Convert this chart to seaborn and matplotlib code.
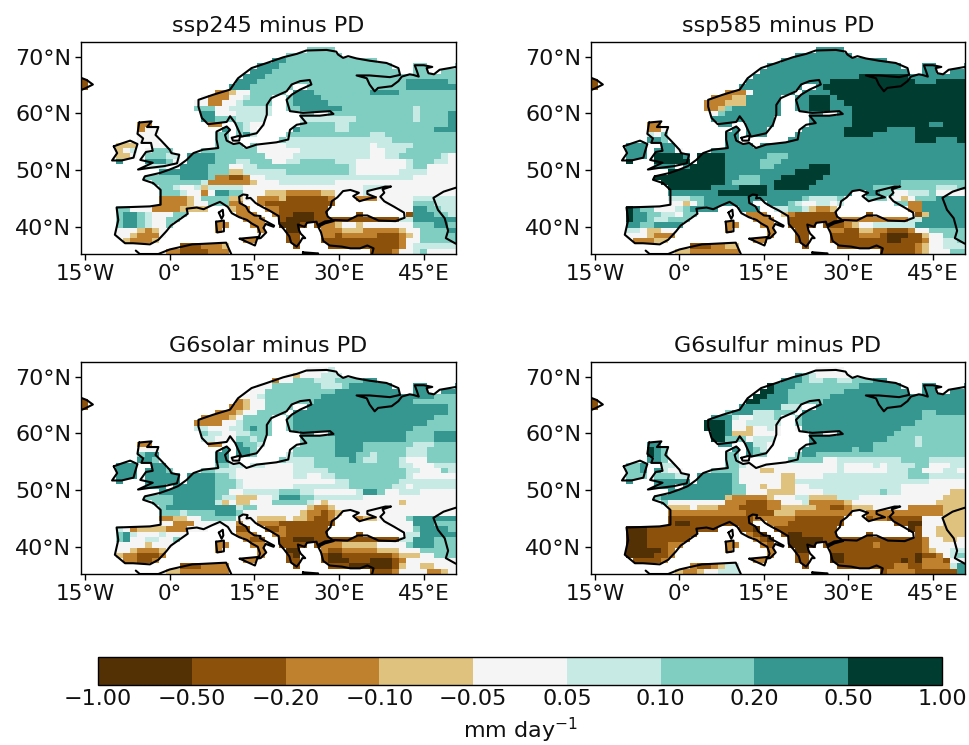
import numpy as np
import pandas as pd
import matplotlib
matplotlib.use("Agg")
import matplotlib.pyplot as plt
from matplotlib.colors import ListedColormap, BoundaryNorm
from matplotlib.cm import ScalarMappable
from matplotlib.path import Path
import seaborn as sns

LEVELS = [-1.0, -0.5, -0.2, -0.1, -0.05, 0.05, 0.1, 0.2, 0.5, 1.0]
COLORS = ["#543005", "#8c510a", "#bf812d", "#dfc27d", "#f5f5f5", "#c7eae5", "#80cdc1", "#35978f", "#003c30"]
TITLES = ["ssp245 minus PD", "ssp585 minus PD", "G6solar minus PD", "G6sulfur minus PD"]
LON_TICKS = [-15, 0, 15, 30, 45]
LAT_TICKS = [40, 50, 60, 70]
LON_LABELS = ["15°W", "0°", "15°E", "30°E", "45°E"]
LAT_LABELS = ["40°N", "50°N", "60°N", "70°N"]

# class of each cell: "start_column:class", runs until the next token (north to south)
SSP245 = ["", "31:6", "0:6", "26:7 29:6", "24:7 28:6", "23:7 27:6", "0:2 22:7 26:6", "0:1 21:7 25:6 46:7 52:6",
          "0:1 21:7 24:6 46:7", "0:2 19:2 21:3 22:4 24:6 30:7 33:6 41:7 45:6",
          "17:4 18:2 21:4 23:5 24:6 30:7 34:6", "17:4 18:2 20:4 22:5 23:6 30:7 35:6",
          "17:6 19:4 21:5 29:6 31:7 37:6 47:5 48:6", "17:7 19:4 22:5 29:7 30:6 47:5 48:6 52:7",
          "17:7 19:6 22:5 37:5 39:6 47:5 48:6 52:7", "8:2 22:6 23:5 24:4 26:5 31:6 36:5 38:6 52:7",
          "8:2 9:4 19:7 21:6 23:5 24:4 26:5 30:7 31:6 36:5 38:6 50:7", "8:4 19:6 23:7 24:5 29:6 41:5 43:6",
          "7:3 8:4 19:6 29:5 41:5 44:6", "5:3 8:4 18:6 25:4 29:5 41:4 42:5 47:6",
          "5:3 6:4 7:5 8:4 10:6 16:6 25:4 31:5 41:4 43:5 46:6", "5:3 7:4 9:6 12:5 15:7 19:6 26:4 30:5 41:4 43:5 45:6 51:5 52:4",
          "9:7 12:6 13:4 15:7 19:6 22:5 24:6 27:4 29:5 31:6 36:5 39:4 46:5 47:6 50:5 52:4",
          "8:4 9:5 13:4 14:7 18:6 21:4 23:5 25:6 38:5 39:4 46:5 47:6 49:4",
          "13:7 18:6 21:3 23:5 29:6 37:6 38:5 39:4 45:5 49:4",
          "9:6 14:7 18:6 19:2 21:1 23:2 24:4 26:5 38:5 47:4", "10:6 17:5 18:2 22:2 24:3 25:4 28:5 36:4 44:4",
          "11:6 13:5 14:4 16:5 17:3 18:5 22:5 23:4 38:4 40:5 43:4",
          "11:6 14:5 15:4 17:2 18:4 19:7 21:6 23:4 26:3 29:2 34:3 36:4 40:5 41:4",
          "12:2 15:3 16:4 17:6 21:3 23:4 25:2 28:3 29:1 35:2 42:4 47:5", "11:2 15:3 16:4 18:6 21:2 26:1 42:4 47:6 50:5",
          "5:6 7:4 10:2 14:3 22:2 27:2 28:1 45:4 47:7 49:6 51:5", "5:6 6:7 8:6 9:5 10:4 13:6 19:2 23:2 28:1 30:0 33:1 47:7 50:6 52:5",
          "5:6 6:7 8:6 9:5 10:4 12:6 19:2 24:2 28:1 29:0 33:1 45:5 47:7", "5:6 6:7 8:6 9:5 10:4 12:6 19:2 25:2 27:3 28:0 31:1 34:2 36:3 37:4 39:3 40:4 47:6 50:7 52:6",
          "5:4 8:3 9:2 10:3 11:4 19:2 26:2 28:0 31:1 34:2 37:3 40:2 45:3 46:4 48:6 52:7",
          "5:4 7:3 8:2 10:2 11:4 28:1 31:2 34:2 36:1 37:2 42:1 45:2 46:3 47:4 48:6 53:7",
          "6:3 7:2 10:3 23:2 29:1 32:2 34:1 45:2 46:4 48:6 53:7", "7:1 12:2 14:1 17:2 20:3 30:1 37:1 45:2 46:4 47:5",
          "7:1 10:2 14:1 18:2 38:1 42:1 44:2 45:4 47:5 48:6 49:4"]

SSP585 = ["", "31:7", "0:7", "0:7", "0:7", "0:7", "0:2 22:7 38:8 45:7", "0:1 21:7 34:8 46:7 49:8", "0:1 21:7 33:8",
          "0:2 19:2 22:4 23:7 34:8", "17:2 20:3 22:7 31:8 34:7 35:8", "17:2 19:3 22:7 31:8 34:7 36:8",
          "17:2 18:3 19:6 20:7 31:8 34:7 37:8", "17:4 18:6 19:7 37:8", "17:7 37:8", "8:2 18:7 37:8 48:7 50:8",
          "8:2 10:4 19:7 36:8 42:7 46:8", "8:5 9:4 10:6 19:7 36:8 40:7 46:8", "7:7 10:6 19:7 46:8 49:7 52:8",
          "5:7 8:8 9:7", "5:7 8:8 9:7 12:4 16:7", "5:7 9:8 13:7 15:8 19:7 25:6 28:7", "9:8 15:8 19:7 24:6 27:7",
          "8:7 14:8 19:7 24:6 26:7 31:8 34:7", "13:8 19:7 29:8 34:7", "9:8 19:7 21:6 24:7 27:8 33:7",
          "9:8 19:7 20:6 24:7 26:8 32:7 44:6", "11:8 17:7 21:8 25:7 26:8 31:7 40:6 49:5 52:6",
          "11:7 18:8 25:7 41:6 43:4 45:5 48:6 49:4", "12:5 14:6 16:7 30:6 31:5 35:6 42:4 44:3 45:4 46:6 49:7",
          "12:4 13:3 14:4 15:6 16:7 23:7 27:7 28:6 29:5 30:4 32:5 34:4 35:5 42:6 45:2 47:7",
          "5:8 6:7 7:6 9:4 12:5 13:6 14:7 22:7 24:5 28:6 30:5 31:3 32:2 34:3 45:2 47:7",
          "5:8 6:7 8:6 10:5 12:4 13:6 19:2 23:2 25:3 28:2 29:1 47:3 48:7", "5:8 6:7 8:6 9:5 11:6 19:2 24:2 28:1 35:2 45:5 47:7",
          "5:7 7:6 9:7 19:2 25:2 28:1 34:1 36:2 37:3 38:4 40:5 44:5 46:7", "5:5 7:4 8:3 10:4 19:2 26:2 28:1 34:2 36:1 38:3 40:2 42:1 45:2 46:4 48:6",
          "5:4 8:3 9:2 11:2 28:1 34:1 38:2 41:1 42:0 45:1 47:3 48:4 50:6", "6:2 9:3 23:2 29:1 34:1 42:0 44:1 47:2 48:4 50:5 52:6",
          "7:1 12:2 14:1 17:2 19:3 30:1 38:1 46:2 47:3 48:4 50:5", "7:1 10:3 14:2 38:1 42:1 46:2 47:3 48:4 51:6"]

G6SOLAR = ["", "30:3 32:4 35:5", "29:4 30:3 31:4 34:5", "26:2 28:4 30:6 33:5 36:6 40:7", "24:4 27:6 34:5 37:6 38:7",
           "23:4 26:6 36:7", "0:2 22:3 23:4 25:5 26:6 34:7 50:6", "0:1 21:3 22:2 23:3 24:4 26:6 33:7 47:6", "0:1 21:2 23:3 24:4 26:6 30:7 52:6",
           "0:2 19:2 22:3 23:4 25:6 30:7 52:6", "17:2 21:3 22:4 23:6 30:7 50:6", "17:2 20:4 22:5 23:6 30:7 49:6",
           "17:5 18:4 21:5 23:6 24:7 25:6 30:7 47:6", "17:6 18:5 20:4 22:5 24:6 30:7 46:6 50:7", "17:5 19:4 22:6 24:5 25:6 36:7 46:6 50:7",
           "8:2 22:7 23:6 25:5 26:4 31:6 36:7 40:6 47:5 50:6", "8:4 19:7 24:6 26:5 30:6 36:7 40:6 46:5 49:6", "8:6 9:7 19:7 24:6 29:5 30:6 36:7 39:6 41:5 42:6 46:5 49:6",
           "7:7 10:6 19:7 22:6 29:5 33:6 38:7 39:6 40:5 42:6 45:5 46:4 49:6", "5:7 18:6 21:5 26:4 30:5 33:6 45:5 47:4 50:5",
           "5:7 12:6 16:6 19:5 22:4 30:5 35:6 46:5 48:4 51:6 52:5", "5:7 15:7 19:6 21:5 22:4 30:5 32:4 34:5 36:6 46:5 47:4",
           "9:7 15:7 19:6 22:5 23:4 33:4 36:5 38:6 45:5", "8:7 14:7 19:6 22:5 23:4 30:5 38:6 44:5 46:4 47:5",
           "13:7 19:6 21:4 23:5 28:6 31:5 33:4 39:5 40:7 42:6 43:4 45:5 48:4", "9:6 13:7 19:6 20:5 22:3 25:4 27:5 28:7 31:6 33:5 40:4",
           "9:6 13:7 19:5 20:3 21:4 22:3 24:4 27:6 32:5 33:4 34:3 35:4 45:3 46:4", "11:6 12:7 18:7 22:5 23:6 25:4 32:3 33:2 35:3 36:4",
           "11:6 14:5 15:6 19:7 22:6 23:4 31:3 32:2 34:1 35:2 36:3 37:4", "12:2 13:3 15:4 17:6 22:4 25:3 29:4 30:3 32:2 33:1 35:2 40:3 42:4 46:6 47:7",
           "12:4 13:2 16:4 22:2 28:1 42:4 47:7 50:6", "5:5 6:4 7:2 8:3 12:2 15:4 22:1 28:2 29:1 45:4 47:6 48:7 52:6",
           "5:6 6:7 7:5 8:4 11:5 12:4 19:2 23:2 28:2 29:1 46:5 48:7", "5:6 6:7 7:4 9:5 11:4 13:6 19:2 24:1 26:2 28:1 30:0 33:1 45:5 47:7 50:6",
           "5:4 9:3 10:4 19:2 25:2 27:3 28:1 34:2 37:3 42:4 46:6 47:7 50:6", "5:4 7:3 8:2 11:3 19:2 26:2 28:0 31:1 34:2 35:1 37:2 42:3 45:4 48:6",
           "5:3 6:2 8:1 11:2 28:1 30:0 34:1 35:0 37:1 44:2 45:3 48:4 50:6", "6:2 8:1 10:2 23:2 29:1 34:1 35:0 38:1 41:0 44:1 45:2 46:4",
           "7:1 12:2 14:1 17:2 30:1 38:0 44:1 45:3 46:4 48:3 50:4", "7:1 10:3 14:2 38:1 42:1 44:2 45:4 49:2 51:3 52:4"]

G6SULFUR = ["", "32:4", "29:7 30:6 31:5 32:4", "26:7 30:6 31:5 33:6 35:5 37:6 40:7", "24:7 25:8 26:7 29:6 38:7", "23:7 24:8 26:7 28:6 36:7",
            "0:2 22:7 23:8 25:7 28:6 34:7", "0:1 21:8 24:7 28:6 33:7", "0:1 19:6 21:7 27:5 30:7", "0:1 19:6 20:7 23:5 26:6 30:7 47:6 49:7",
            "17:7 20:5 21:4 23:5 26:6 30:7 47:6", "17:8 19:7 20:4 22:5 27:6 30:7 45:7 46:6", "17:8 19:7 20:4 22:3 23:4 25:5 26:4 30:7 44:6",
            "17:8 19:7 20:3 23:4 29:7 43:6", "17:8 19:6 22:4 23:5 26:7 42:6 46:5 47:6", "8:7 22:7 23:5 25:4 31:7 40:6 46:5 47:6",
            "8:8 9:7 10:6 19:7 23:6 24:5 30:7 37:6 38:7 40:6", "8:8 9:7 10:6 19:6 21:7 23:6 30:7 32:6", "7:7 10:6 19:6 30:6 33:4 35:5 41:5 44:6 48:5",
            "5:6 7:7 8:6 10:5 18:6 21:5 22:4 35:5 36:4 40:5 41:4 42:5 46:6 48:4 51:5", "5:6 7:7 8:6 9:7 10:5 11:4 16:6 21:4 24:3 26:4 35:5 36:4 42:5 45:6 47:4 50:5 52:4",
            "5:6 12:5 15:7 20:6 21:4 27:3 29:4 33:5 45:6 48:5", "9:7 15:7 20:6 21:4 27:3 29:5 46:5 48:4", "8:7 14:7 20:6 22:4 24:3 25:4 27:3 29:4 31:5 44:4",
            "13:7 20:6 22:4 25:3 29:4 33:5 41:6 42:5 44:4 51:3", "9:6 10:7 19:3 20:2 25:3 26:4 29:5 31:3 33:3 35:5 38:4 50:3",
            "9:5 10:6 11:4 19:2 22:1 25:2 27:4 30:5 31:2 36:3 37:4 49:3", "12:3 14:4 15:3 18:2 21:1 25:2 27:3 32:2 34:1 36:2 37:3 40:4 45:2 50:3",
            "11:2 22:1 26:3 29:2 40:2 50:3", "12:1 23:2 27:2 29:1 40:2 42:1 47:4 50:3", "11:1 12:0 14:1 22:1 24:2 28:1 45:0 47:4 50:3",
            "5:0 8:1 22:1 23:0 24:1 28:1 45:0 46:1 47:4 49:3", "5:0 8:1 19:2 23:1 24:0 25:1 28:0 30:1 46:1 47:4 49:3",
            "5:0 8:1 19:2 24:1 25:0 26:1 28:0 31:0 33:1 45:1 47:2 48:4 50:3 52:4", "5:0 8:1 11:2 19:2 25:1 27:2 28:0 32:1 40:2 41:1 47:2 48:4",
            "5:0 10:1 11:2 19:2 26:2 28:0 31:1 47:2 48:3 49:4 51:5", "5:0 9:1 11:2 28:1 34:0 36:1 46:0 47:1 49:2 50:4 51:5 52:6",
            "6:1 10:2 23:2 29:1 34:0 36:1 44:0 45:1 46:0 47:2 50:1 51:4", "7:1 12:2 15:1 17:2 18:3 19:5 30:1 38:1 43:2 45:1 47:2 51:5 52:7",
            "7:1 9:2 10:3 13:2 15:3 16:4 18:5 38:1 42:2 46:1 52:7"]

# coastlines (lon, lat)
COAST_NORTH = [(50.7,68.2),(47.8,67.7),(46.8,66.9),(45.8,67.1),(45.5,68.0),(46.5,68.2),(45.0,68.5),(43.4,68.5),(43.8,67.4),(44.1,66.5),
    (43.1,66.8),(42.5,66.9),(41.1,66.5),(40.5,65.7),(39.3,64.8),(36.9,64.5),(36.3,63.9),(35.4,65.1),(34.9,66.2),(33.1,66.7),(35.4,66.7),
    (39.0,66.4),(40.8,66.8),(40.5,68.0),(38.4,68.9),(35.4,69.3),(33.1,69.7),(31.6,70.1),(30.7,69.8),(29.8,70.4),(29.5,70.9),(27.8,71.2),
    (24.2,71.1),(22.5,70.5),(20.1,69.9),(17.2,68.9),(14.5,68.0),(12.1,66.2),(10.7,64.2),(7.7,63.3),(5.1,62.4),(5.1,61.2),(5.7,59.2),
    (6.8,58.1),(10.1,58.5),(10.7,59.5),(11.6,58.3),(12.7,55.9),(15.4,56.5),(16.6,58.0),(17.2,59.8),(17.2,61.5),(18.0,62.7),(20.7,63.9),
    (21.6,65.1),(23.1,65.7),(24.8,65.9),(25.1,65.1),(23.1,64.2),(21.6,63.3),(20.7,62.4),(21.3,60.4),(23.6,60.1),(28.4,60.4),(29.0,59.9),
    (26.6,59.6),(23.1,59.6),(24.2,58.3),(22.5,58.0),(21.3,57.1),(21.0,55.4),(18.9,54.9),(15.4,54.5),(13.6,53.9),(12.4,54.8),(11.3,54.6),
    (10.1,55.2),(9.8,56.2),(10.7,57.1),(10.1,57.7),(8.3,56.8),(8.3,55.4),(8.6,53.9),(5.9,53.6),(4.2,53.0),(3.0,51.8),(1.5,50.7),(0.0,50.1),
    (-1.7,49.5),(-4.4,48.9),(-4.7,48.3),(-2.9,47.7),(-1.6,46.5),(-1.6,43.9),(-3.5,43.6),(-9.4,43.4),(-9.1,41.2),(-9.7,38.6),(-7.9,37.1),
    (-6.5,37.1),(-3.5,36.9),(-2.0,37.7),(-0.6,39.2),(0.2,40.2),(3.2,42.3),(3.0,43.2),(4.8,43.4),(6.0,43.1),(7.5,43.8),(8.9,44.4),(10.3,43.5),
    (11.0,42.4),(12.3,41.7),(13.7,41.2),(14.5,40.6),(15.6,40.0),(16.0,38.8),(15.7,37.95),(16.1,38.0),(17.1,39.0),(16.6,39.8),(17.0,40.5),
    (18.4,40.0),(18.5,40.2),(17.0,41.0),(16.0,41.5),(16.1,41.9),(15.0,42.0),(14.0,42.7),(13.5,43.6),(12.4,44.2),(12.3,45.3),(13.0,45.7),
    (13.8,45.6),(13.6,45.0),(14.3,45.1),(15.2,44.2),(16.4,43.5),(17.6,42.9),(19.3,41.9),(19.4,40.5),(20.2,39.6),(21.2,38.3),(21.5,37.2),
    (22.5,36.5),(23.1,37.3),(23.5,38.0),(24.0,38.0),(23.2,38.8),(22.9,39.4),(22.7,40.4),(23.9,40.0),(24.3,40.7),(26.0,40.9),(26.2,40.3),
    (27.5,40.95),(29.0,41.1),(28.0,41.8),(27.7,42.6),(28.5,43.5),(28.7,44.5),(29.7,45.2),(30.7,46.3),(32.0,46.5),(33.5,46.0),(32.5,45.4),
    (33.6,44.5),(35.3,45.0),(36.5,45.2),(35.0,45.8),(35.0,46.3),(38.2,47.1),(39.2,47.1),(37.7,46.6),(38.0,46.0),(37.3,45.3),(38.0,44.5),
    (39.8,43.5),(41.5,42.5),(41.6,41.6),(40.0,41.0),(37.0,41.1),(35.0,42.0),(33.3,42.0),(31.5,41.1),(29.2,41.2),(29.0,41.0),(27.5,40.6),
    (26.3,40.0),(26.8,39.0),(27.2,37.5),(28.3,36.7),(30.5,36.5),(32.0,36.2),(33.7,36.2),(35.0,36.7),(36.1,36.2),(35.8,35.0)]
COAST_CASPIAN = [(50.7,46.9),(48.5,46.2),(46.7,45.1),(47.5,43.0),(48.7,41.5),(49.3,39.3),(48.9,38.0),(50.7,37.0)]
COAST_AFRICA = [(-6.0,35.8),(-5.3,35.2),(-2.0,35.2),(0.0,36.0),(4.0,36.9),(10.0,37.2),(10.9,35.2)]
COAST_SICILY = [(12.4,37.9),(15.6,38.2),(15.1,36.7),(12.4,37.9)]
COAST_SARDINIA = [(8.2,40.9),(9.6,41.1),(9.6,39.2),(8.4,39.0),(8.2,40.9)]
COAST_CORSICA = [(8.7,42.5),(9.4,43.0),(9.5,42.0),(9.2,41.4),(8.7,42.5)]
COAST_CRETE = [(23.6,35.5),(26.3,35.3),(26.0,35.0),(23.6,35.2),(23.6,35.5)]
COAST_IRELAND = [(-9.9,54.2),(-8.5,54.7),(-7.0,55.2),(-5.7,54.6),(-6.1,53.3),(-6.4,52.2),(-8.5,51.7),(-10.2,51.7),(-9.3,53.0),(-9.9,54.2)]
COAST_BRITAIN = [(-5.4,58.4),(-3.2,58.6),(-4.0,57.6),(-2.0,57.6),(-2.5,56.2),(-1.6,55.3),(0.0,53.6),(0.3,53.0),(1.7,52.7),(1.3,51.2),
    (-1.0,50.7),(-3.5,50.4),(-5.6,50.1),(-3.0,51.3),(-5.2,51.8),(-4.2,53.2),(-3.0,53.4),(-3.3,54.8),(-5.0,54.8),(-4.7,55.6),(-5.7,56.4),(-5.4,58.4)]
COAST_ZEALAND = [(11.0,55.7),(12.5,56.1),(12.3,55.2),(11.2,55.2),(11.0,55.7)]
COAST_ICELAND = [(-16.0,66.4),(-14.7,65.9),(-13.6,65.1),(-15.0,64.4),(-16.0,64.0)]
COASTS = [COAST_NORTH, COAST_CASPIAN, COAST_AFRICA, COAST_SICILY, COAST_SARDINIA, COAST_CORSICA,
          COAST_CRETE, COAST_IRELAND, COAST_BRITAIN, COAST_ZEALAND, COAST_ICELAND]
# seas the model grid treats as land
WHITE_SEA = [(33.0,66.7),(35.4,67.0),(41.0,66.8),(40.5,65.5),(38.0,64.0),(35.5,63.5)]
AZOV_SEA = [(35.0,45.2),(35.0,46.5),(39.3,47.3),(38.0,45.2)]

NCOL, NROW = 54, 40
LON0, DLON = -15.7, 1.25
LAT0, DLAT = 72.6, 0.935


def to_grid(rows):
    g = np.full((NROW, NCOL), np.nan)
    for r, s in enumerate(rows):
        toks = [t.split(":") for t in s.split()]
        for i, (c, v) in enumerate(toks):
            start = 0 if i == 0 else int(c)
            end = int(toks[i + 1][0]) if i + 1 < len(toks) else NCOL
            g[r, start:end] = int(v)
    return g


def land_mask():
    polys = [COAST_NORTH + [(35.8, 34.0), (60.0, 34.0), (60.0, 68.2)],
             COAST_AFRICA + [(10.9, 30.0), (-6.0, 30.0)],
             COAST_SICILY, COAST_SARDINIA, COAST_IRELAND, COAST_BRITAIN,
             COAST_ICELAND + [(-25.0, 64.0), (-25.0, 66.4)], WHITE_SEA, AZOV_SEA]
    cols, rows = np.meshgrid(np.arange(NCOL) + 0.5, np.arange(NROW) + 0.5)
    hits = np.zeros((NROW, NCOL), dtype=int)
    for dx, dy in [(0, 0), (-0.3, -0.3), (0.3, -0.3), (-0.3, 0.3), (0.3, 0.3)]:
        pts = np.c_[LON0 + (cols.ravel() + dx) * DLON, LAT0 - (rows.ravel() + dy) * DLAT]
        inside = np.zeros(len(pts), dtype=bool)
        for p in polys:
            inside |= Path(p).contains_points(pts)
        hits += inside.reshape(NROW, NCOL)
    return hits < 2


sns.set_theme(style="white", rc={"font.family": "DejaVu Sans", "axes.edgecolor": "black"})
W, H = 969, 745
FS = 16
fig = plt.figure(figsize=(W / 100, H / 100), dpi=100)
cmap = ListedColormap(COLORS)
mask = land_mask()
boxes = [(81, 42, 456, 254), (591, 42, 965, 254), (81, 362, 456, 574), (591, 362, 965, 574)]
for rows, title, (x0, y0, x1, y1) in zip([SSP245, SSP585, G6SOLAR, G6SULFUR], TITLES, boxes):
    ax = fig.add_axes([x0 / W, 1 - y1 / H, (x1 - x0) / W, (y1 - y0) / H])
    g = to_grid(rows)
    sns.heatmap(pd.DataFrame(g), mask=mask | np.isnan(g), cmap=cmap, vmin=-0.5, vmax=8.5, cbar=False,
                xticklabels=False, yticklabels=False, ax=ax)
    for seg in COASTS:
        lon, lat = np.array(seg).T
        ax.plot((lon - LON0) / DLON, (LAT0 - lat) / DLAT, color="black", lw=1.5, solid_joinstyle="round")
    ax.set_xlim(0, (50.7 - LON0) / DLON)
    ax.set_ylim((LAT0 - 35.2) / DLAT, 0)
    ax.set_xticks([(v - LON0) / DLON for v in LON_TICKS], LON_LABELS, fontsize=FS - 0.5, rotation=0)
    ax.set_yticks([(LAT0 - v) / DLAT for v in LAT_TICKS], LAT_LABELS, fontsize=FS, rotation=0)
    ax.tick_params(length=4, width=1, bottom=True, left=True, color="black", labelcolor="#111111", pad=3)
    ax.set_title(title, fontsize=FS, pad=7.5, color="#111111")
    for sp in ax.spines.values():
        sp.set_visible(True)
        sp.set_color("black")
        sp.set_linewidth(1)

cax = fig.add_axes([98 / W, 1 - 685 / H, (942 - 98) / W, 28 / H])
sm = ScalarMappable(norm=BoundaryNorm(LEVELS, len(COLORS)), cmap=cmap)
cb = fig.colorbar(sm, cax=cax, orientation="horizontal", spacing="uniform", ticks=LEVELS)
cb.ax.set_xticklabels([f"{v:.2f}".replace("-", "\u2212") for v in LEVELS], fontsize=FS, color="#111111")
cb.ax.tick_params(length=0, pad=3)
cb.ax.minorticks_off()
cb.set_label(r"mm day$^{-1}$", fontsize=FS, labelpad=5, color="#111111")
cb.outline.set_edgecolor("black")
cb.outline.set_linewidth(1)
fig.savefig("out.png", dpi=100, facecolor="white")
